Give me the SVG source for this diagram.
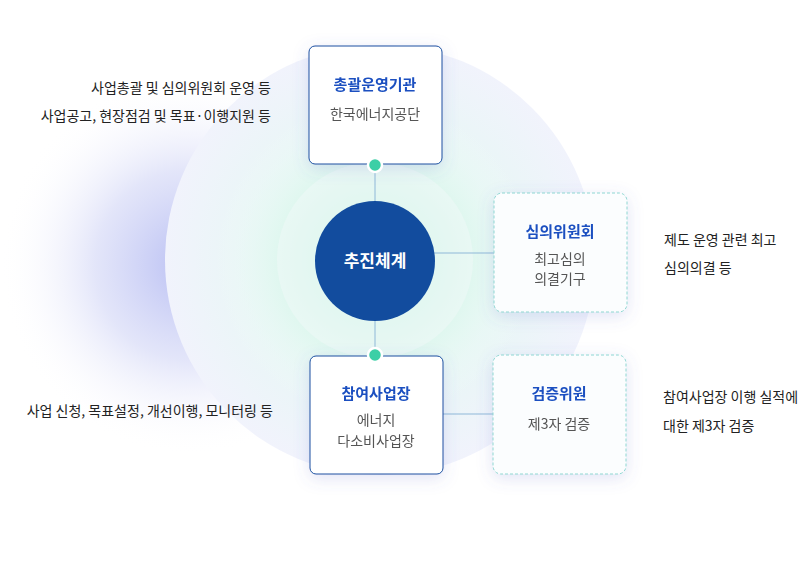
<svg xmlns="http://www.w3.org/2000/svg" width="798" height="572" viewBox="0 0 798 572">
<defs>
<radialGradient id="glowL" cx="0.5" cy="0.5" r="0.5"><stop offset="0" stop-color="#b9bff3"/><stop offset="0.5" stop-color="#dcdff8" stop-opacity="0.8"/><stop offset="1" stop-color="#ffffff" stop-opacity="0"/></radialGradient>
<radialGradient id="glowC" cx="0.5" cy="0.5" r="0.5"><stop offset="0" stop-color="#b7f0dc"/><stop offset="0.6" stop-color="#dff7ef"/><stop offset="1" stop-color="#f3fbfa" stop-opacity="0"/></radialGradient>
<radialGradient id="big" cx="0.5" cy="0.5" r="0.5"><stop offset="0.5" stop-color="#e6f7f4"/><stop offset="1" stop-color="#f1f3fc"/></radialGradient>
<filter id="sh" x="-30%" y="-30%" width="160%" height="160%"><feDropShadow dx="0" dy="4" stdDeviation="8" flood-color="#5a67c8" flood-opacity="0.18"/></filter>
</defs>
<style>
.box{fill:#fff;stroke:#1a4fa0;stroke-width:1}
.dash{fill:#fbfdfe;stroke:#8fd6d2;stroke-width:1;stroke-dasharray:3 2}
.t{font-family:"Noto Sans CJK KR","Noto Sans",sans-serif;font-size:15px;font-weight:700;fill:#1a4fc0;text-anchor:middle}
.s{font-family:"Noto Sans CJK KR","Noto Sans",sans-serif;font-size:14px;fill:#555;text-anchor:middle}
.n{font-family:"Noto Sans CJK KR","Noto Sans",sans-serif;font-size:14px;fill:#222}
.ln{stroke:#8fb8d8;stroke-width:1;fill:none}
</style>
<rect width="798" height="572" fill="#fff"/>
<circle cx="190" cy="265" r="190" fill="url(#glowL)"/>
<circle cx="380" cy="260" r="215" fill="url(#big)"/>
<circle cx="375" cy="260" r="160" fill="url(#glowC)"/>
<circle cx="375" cy="260" r="98" fill="#eef8f6" opacity="0.6"/>
<g id="connectors">
<line class="ln" x1="375" y1="165" x2="375" y2="355"/>
<line class="ln" x1="430" y1="253" x2="494" y2="253"/>
<line class="ln" x1="443" y1="414" x2="493" y2="414"/>
</g>
<g id="n-center"><circle cx="375" cy="261" r="60" fill="#124c9e"/><text x="375" y="267" font-family="Noto Sans CJK KR,sans-serif" font-size="17" font-weight="700" fill="#fff" text-anchor="middle">추진체계</text></g>
<g id="n-top" filter="url(#sh)"><rect class="box" x="309" y="46" width="133" height="118" rx="6"/><text class="t" x="375" y="90">총괄운영기관</text><text class="s" x="375" y="119">한국에너지공단</text></g>
<circle cx="375" cy="165" r="7" fill="#3ccfa6" stroke="#fff" stroke-width="2.5"/>
<g id="n-mid" filter="url(#sh)"><rect class="dash" x="494" y="193" width="133" height="119" rx="8"/><text class="t" x="560" y="237">심의위원회</text><text class="s" x="560" y="264">최고심의</text><text class="s" x="560" y="284">의결기구</text></g>
<g id="n-bot" filter="url(#sh)"><rect class="box" x="310" y="356" width="133" height="118" rx="6"/><text class="t" x="376" y="399">참여사업장</text><text class="s" x="376" y="425">에너지</text><text class="s" x="376" y="446">다소비사업장</text></g>
<circle cx="375" cy="355" r="7" fill="#3ccfa6" stroke="#fff" stroke-width="2.5"/>
<g id="n-ver" filter="url(#sh)"><rect class="dash" x="493" y="355" width="133" height="119" rx="8"/><text class="t" x="559" y="399">검증위원</text><text class="s" x="559" y="429">제3자 검증</text></g>
<g id="notes">
<text class="n" x="271" y="93" text-anchor="end">사업총괄 및 심의위원회 운영 등</text>
<text class="n" x="271" y="121" text-anchor="end">사업공고, 현장점검 및 목표·이행지원 등</text>
<text class="n" x="664" y="245">제도 운영 관련 최고</text>
<text class="n" x="664" y="273">심의의결 등</text>
<text class="n" x="273" y="416" text-anchor="end">사업 신청, 목표설정, 개선이행, 모니터링 등</text>
<text class="n" x="663" y="402">참여사업장 이행 실적에</text>
<text class="n" x="663" y="431">대한 제3자 검증</text>
</g>
</svg>
